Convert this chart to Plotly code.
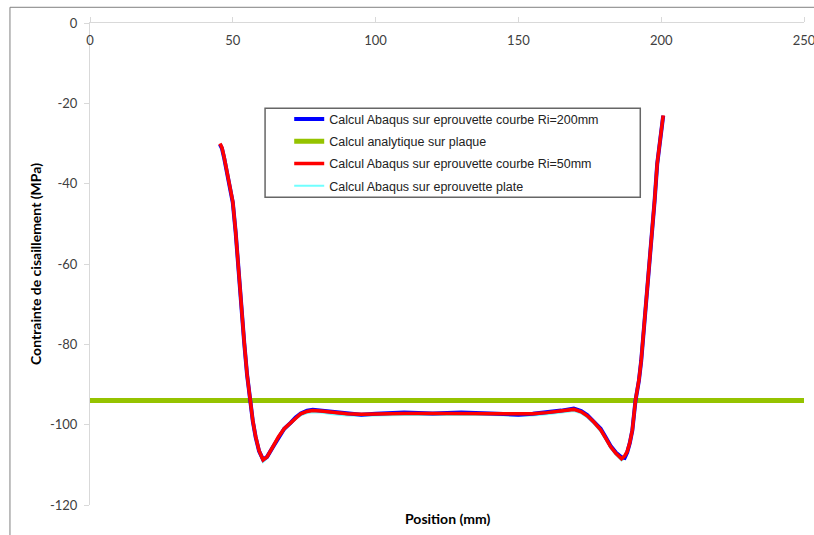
import plotly.graph_objects as go

# ---- data ----
x_ri200 = [45.5, 46.2, 47.0, 48.0, 49.0, 50.0, 51.0, 52.0, 53.0, 54.0, 55.0, 56.0, 57.0, 58.0,
           59.2, 60.6, 62.0, 64.0, 66.0, 68.0, 70.3, 72.0, 73.8, 76.0, 78.0, 80.8, 85.0, 90.0,
           95.0, 100.0, 110.0, 120.0, 130.0, 140.0, 150.0, 155.0, 160.0, 165.0, 169.4, 172.0,
           174.1, 176.5, 178.8, 180.5, 182.3, 184.2, 186.1, 187.2, 188.1, 189.0, 189.9, 191.0,
           192.2, 193.0, 194.5, 195.7, 196.7, 197.7, 198.6, 199.5, 200.0, 200.7]
y_ri200 = [-30.2, -31.2, -33.7, -37.7, -41.2, -44.7, -52.1, -62.1, -71.1, -79.6, -87.6, -93.6,
           -99.1, -103.1, -106.6, -108.7, -108.0, -105.6, -103.1, -101.0, -99.5, -98.2, -97.2,
           -96.5, -96.3, -96.5, -96.9, -97.2, -97.5, -97.3, -97.0, -97.2, -97.0, -97.2, -97.5,
           -97.3, -97.0, -96.5, -96.0, -96.6, -97.6, -99.2, -101.0, -103.1, -105.3, -107.0,
           -108.1, -108.3, -106.9, -104.6, -101.4, -94.0, -89.0, -84.1, -72.1, -60.8, -52.1,
           -44.2, -35.1, -29.3, -26.1, -23.1]

x_plaque = [0, 250]
y_plaque = [-94, -94]

x_ri50 = [45.5, 46.2, 47.0, 48.0, 49.0, 50.0, 51.0, 52.0, 53.0, 54.0, 55.0, 56.0, 57.0, 58.0,
          59.2, 60.6, 62.0, 64.0, 66.0, 68.0, 70.3, 72.0, 73.8, 76.0, 78.0, 80.8, 85.0, 90.0,
          95.0, 100.0, 110.0, 120.0, 130.0, 140.0, 150.0, 155.0, 160.0, 165.0, 169.4, 172.0,
          174.1, 176.5, 178.8, 180.5, 182.3, 184.2, 186.1, 187.2, 188.1, 189.0, 189.9, 191.0,
          192.2, 193.0, 194.5, 195.7, 196.7, 197.7, 198.6, 199.5, 200.0, 200.7]
y_ri50 = [-30.0, -31.0, -33.5, -37.5, -41.0, -44.5, -52.0, -62.0, -71.0, -79.5, -87.5, -93.5,
          -99.0, -103.0, -106.5, -108.8, -108.0, -105.5, -103.0, -101.0, -99.5, -98.2, -97.3,
          -96.7, -96.5, -96.6, -97.0, -97.3, -97.4, -97.3, -97.2, -97.2, -97.2, -97.2, -97.4,
          -97.3, -97.0, -96.6, -96.2, -96.8, -97.8, -99.4, -101.3, -103.3, -105.5, -107.2,
          -108.5, -107.8, -106.7, -104.5, -101.3, -93.9, -88.9, -84.0, -72.0, -60.7, -52.0,
          -44.1, -35.0, -29.2, -26.0, -23.0]

x_plate = [45.5, 46.2, 47.0, 48.0, 49.0, 50.0, 51.0, 52.0, 53.0, 54.0, 55.0, 56.0, 57.0, 58.0,
           59.2, 60.6, 62.0, 64.0, 66.0, 68.0, 70.3, 72.0, 73.8, 76.0, 78.0, 80.8, 85.0, 90.0,
           95.0, 100.0, 110.0, 120.0, 130.0, 140.0, 150.0, 155.0, 160.0, 165.0, 169.4, 172.0,
           174.1, 176.5, 178.8, 180.5, 182.3, 184.2, 186.1, 187.2, 188.1, 189.0, 189.9, 191.0,
           192.2, 193.0, 194.5, 195.7, 196.7, 197.7, 198.6, 199.5, 200.0, 200.7]
y_plate = [-30.4, -31.4, -33.9, -37.9, -41.4, -44.9, -52.4, -62.4, -71.4, -79.9, -87.9, -93.9,
           -99.4, -103.4, -106.9, -109.3, -108.4, -105.9, -103.4, -101.4, -99.9, -98.6, -97.7,
           -97.1, -96.9, -97.0, -97.4, -97.7, -97.8, -97.7, -97.6, -97.6, -97.6, -97.6, -97.8,
           -97.7, -97.4, -97.0, -96.6, -97.2, -98.2, -99.8, -101.7, -103.7, -105.9, -107.6,
           -108.9, -108.4, -107.2, -104.9, -101.7, -94.3, -89.3, -84.4, -72.4, -61.1, -52.4,
           -44.5, -35.4, -29.6, -26.4, -23.4]

x_ticks = [0, 50, 100, 150, 200, 250]
y_ticks = [0, -20, -40, -60, -80, -100, -120]
y_ticktext = ["0", "-20", "-40", "-60", "-80", "-100", "-120"]

names = ["Calcul Abaqus sur eprouvette courbe Ri=200mm",
         "Calcul analytique sur plaque",
         "Calcul Abaqus sur eprouvette courbe Ri=50mm",
         "Calcul Abaqus sur eprouvette plate"]

fig = go.Figure()
fig.add_trace(go.Scatter(x=x_plaque, y=y_plaque, mode="lines", name=names[1], legendrank=2,
                         legendgroup="b", line=dict(color="#95C300", width=5)))
fig.add_trace(go.Scatter(x=x_plate, y=y_plate, mode="lines", name=names[3], legendrank=4,
                         legendgroup="d", line=dict(color="#70FFFF", width=2)))
fig.add_trace(go.Scatter(x=x_ri200, y=y_ri200, mode="lines", name=names[0], legendrank=1,
                         legendgroup="a", line=dict(color="#0000FF", width=4)))
fig.add_trace(go.Scatter(x=x_ri50, y=y_ri50, mode="lines", name=names[2], legendrank=3,
                         legendgroup="c", line=dict(color="#FF0000", width=3.5)))

axis_col = "#D9D9D9"
tick_font = dict(family="Lato, Open Sans, sans-serif", size=13, color="#404040")
title_font = dict(family="Lato, Open Sans, sans-serif", size=14, color="#000000")

fig.update_layout(
    width=814, height=535,
    margin=dict(l=90, r=10.4, t=22.7, b=30, autoexpand=False),
    paper_bgcolor="white", plot_bgcolor="white",
    showlegend=True,
    legend=dict(x=0.279, y=0.831, xanchor="left", yanchor="top",
                bgcolor="rgba(0,0,0,0)", borderwidth=0,
                font=dict(family="Liberation Sans, Arial, sans-serif", size=12.5, color="#222222"),
                tracegroupgap=3, itemwidth=30, traceorder="grouped"),
    xaxis=dict(range=[0, 250], side="top", tickvals=x_ticks, ticks="outside", ticklen=5,
               tickcolor=axis_col, showline=True, linecolor=axis_col, linewidth=1,
               showgrid=False, zeroline=False, ticklabelposition="inside",
               ticklabelstandoff=13, ticklabeloverflow="allow", automargin=False,
               tickfont=tick_font),
    yaxis=dict(range=[-120, 0], tickvals=y_ticks, ticktext=y_ticktext, ticks="outside",
               ticklen=5, tickcolor=axis_col, showline=True, linecolor=axis_col, linewidth=1,
               showgrid=False, zeroline=False, ticklabeloverflow="allow", automargin=False,
               ticklabelstandoff=4, tickfont=tick_font),
    shapes=[
        dict(type="rect", xref="paper", yref="paper", x0=0.2452, x1=0.7707, y0=0.6386, y1=0.8231,
             line=dict(color="#666666", width=1.5), fillcolor="rgba(0,0,0,0)", layer="above"),
        dict(type="rect", xref="paper", yref="paper", x0=-0.1121, x1=1.03, y0=-0.08, y1=1.0326,
             line=dict(color="#808080", width=1), fillcolor="rgba(0,0,0,0)"),
    ],
    annotations=[
        dict(text="<b>Position (mm)</b>", xref="paper", yref="paper", x=0.5, y=-0.0275,
             xanchor="center", yanchor="middle", showarrow=False, font=title_font),
        dict(text="<b>Contrainte de cisaillement (MPa)</b>", xref="paper", yref="paper",
             x=-0.077, y=0.5, xanchor="center", yanchor="middle", textangle=-90,
             showarrow=False, font=title_font),
    ],
)

fig.write_html(
    "out.html",
    config={"displayModeBar": False},
    post_script="document.body.style.margin='0px';document.body.style.overflow='hidden';",
)
